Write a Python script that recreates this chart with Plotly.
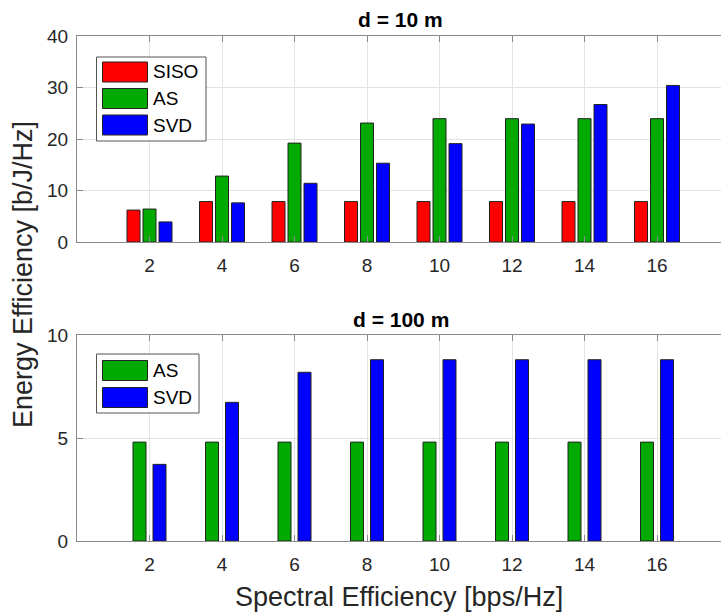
import plotly.graph_objects as go

# ---------------- data ----------------
se = [2, 4, 6, 8, 10, 12, 14, 16]
siso_10 = [6.2, 7.85, 7.85, 7.85, 7.85, 7.85, 7.85, 7.85]
as_10 = [6.4, 12.8, 19.2, 23.1, 23.95, 23.95, 23.95, 23.95]
svd_10 = [3.9, 7.6, 11.4, 15.3, 19.1, 22.9, 26.7, 30.4]
as_100 = [4.8, 4.8, 4.8, 4.8, 4.8, 4.8, 4.8, 4.8]
svd_100 = [3.72, 6.73, 8.19, 8.8, 8.8, 8.8, 8.8, 8.8]
top_ticks = [0, 10, 20, 30, 40]
bot_ticks = [0, 5, 10]
names_top = ["SISO", "AS", "SVD"]
names_bot = ["AS", "SVD"]
title_top = "d = 10 m"
title_bot = "d = 100 m"
xlabel = "Spectral Efficiency [bps/Hz]"
ylabel = "Energy Efficiency [b/J/Hz]"

# ---------------- styling ----------------
W, H = 721, 614
L, R, T, B = 77, 0, 36, 73
PW, PH = W - L - R, H - T - B
FONT = "Liberation Sans, Arial, Helvetica, sans-serif"
TXT = "#262626"
RED, GREEN, BLUE = "#ff0000", "#00aa00", "#0000ff"
EDGE = "#222222"
AXC = "#8a8a8a"
GRID = "#e3e3e3"
PXU = 36.25  # pixels per x unit
XMAX = PW / PXU
TICKSZ = 19


def fx(px):
    return (px - L) / PW


def fy(py):
    return (H - B - py) / PH


top_dom = [fy(242), fy(36)]
bot_dom = [fy(541), fy(335)]

bw = 13 / PXU
fig = go.Figure()

top_series = [(siso_10, RED, -16), (as_10, GREEN, 0), (svd_10, BLUE, 16)]
for (vals, col, c), nm in zip(top_series, names_top):
    fig.add_trace(go.Bar(x=se, y=vals, name=nm, marker=dict(color=col, line=dict(color=EDGE, width=1)),
                         width=bw, offset=c / PXU - bw / 2, xaxis="x", yaxis="y", showlegend=False))

bot_series = [(as_100, GREEN, -10), (svd_100, BLUE, 10)]
for (vals, col, c), nm in zip(bot_series, names_bot):
    fig.add_trace(go.Bar(x=se, y=vals, name=nm, marker=dict(color=col, line=dict(color=EDGE, width=1)),
                         width=bw, offset=c / PXU - bw / 2, xaxis="x2", yaxis="y2", showlegend=False))

xcommon = dict(range=[0, XMAX], tickvals=se, ticks="inside", ticklen=6, tickcolor=AXC,
               showline=True, linecolor=AXC, linewidth=1, mirror="ticks",
               showgrid=True, gridcolor=GRID, gridwidth=1, zeroline=False,
               tickfont=dict(family=FONT, size=TICKSZ, color=TXT), ticklabelstandoff=6)
ycommon = dict(ticks="inside", ticklen=6, tickcolor=AXC, showline=True, linecolor=AXC, linewidth=1,
               mirror=False, showgrid=True, gridcolor=GRID, gridwidth=1,
               zeroline=True, zerolinecolor="#1a1a1a", zerolinewidth=1,
               tickfont=dict(family=FONT, size=TICKSZ, color=TXT), ticklabelstandoff=4)

fig.update_layout(
    width=W, height=H,
    margin=dict(l=L, r=R, t=T, b=B, pad=0),
    paper_bgcolor="white", plot_bgcolor="white",
    font=dict(family=FONT, color=TXT),
    xaxis=dict(domain=[0, 1], anchor="y", **xcommon),
    yaxis=dict(domain=top_dom, anchor="x", range=[0, 40], tickvals=top_ticks, **ycommon),
    xaxis2=dict(domain=[0, 1], anchor="y2", **xcommon),
    yaxis2=dict(domain=bot_dom, anchor="x2", range=[0, 10], tickvals=bot_ticks, **ycommon),
    barmode="overlay",
    showlegend=False,
)

shapes = []
annots = []


def legend(box, rows, labels, colors):
    x0, x1, y0, y1 = box
    shapes.append(dict(type="rect", xref="paper", yref="paper", x0=fx(x0), x1=fx(x1), y0=fy(y1), y1=fy(y0),
                       line=dict(color="#555555", width=1), fillcolor="white", layer="above"))
    for (ya, yb), lab, col in zip(rows, labels, colors):
        shapes.append(dict(type="rect", xref="paper", yref="paper", x0=fx(102.5), x1=fx(147.5),
                           y0=fy(yb), y1=fy(ya), line=dict(color=EDGE, width=1), fillcolor=col, layer="above"))
        annots.append(dict(text=lab, xref="paper", yref="paper", x=fx(151), y=fy((ya + yb) / 2),
                           xanchor="left", yanchor="middle", showarrow=False,
                           font=dict(family=FONT, size=19, color="#000000")))


legend((96.5, 206, 57, 141), [(62, 82), (88.5, 108.5), (115, 135)], names_top, [RED, GREEN, BLUE])
legend((96.5, 199, 354, 413), [(360.5, 380.5), (387.5, 407.5)], names_bot, [GREEN, BLUE])

annots.append(dict(text="<b>" + title_top + "</b>", xref="paper", yref="paper", x=fx(400.5), y=fy(20),
                   xanchor="center", yanchor="middle", showarrow=False, font=dict(family=FONT, size=21, color="#000")))
annots.append(dict(text="<b>" + title_bot + "</b>", xref="paper", yref="paper", x=fx(400.5), y=fy(319),
                   xanchor="center", yanchor="middle", showarrow=False, font=dict(family=FONT, size=21, color="#000")))
annots.append(dict(text=xlabel, xref="paper", yref="paper", x=fx(399), y=fy(597),
                   xanchor="center", yanchor="middle", showarrow=False, font=dict(family=FONT, size=27, color=TXT)))
annots.append(dict(text=ylabel, xref="paper", yref="paper", x=fx(23), y=fy(275), textangle=-90,
                   xanchor="center", yanchor="middle", showarrow=False, font=dict(family=FONT, size=27, color=TXT)))

fig.update_layout(shapes=shapes, annotations=annots)
fig.write_html("out.html")
